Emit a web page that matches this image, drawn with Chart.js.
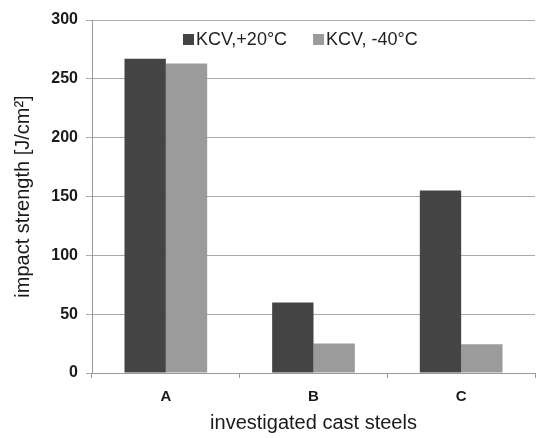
<!DOCTYPE html>
<html>
<head>
<meta charset="utf-8">
<script src="https://cdn.jsdelivr.net/npm/chart.js@4.4.1/dist/chart.umd.min.js"></script>
<style>
  html, body { margin: 0; padding: 0; background: #fff; }
  #wrap { width: 537px; height: 438px; }
</style>
</head>
<body>
<div id="wrap"><canvas id="bar"></canvas></div>
<script>
const steels = ['A', 'B', 'C'];
const kcvPlus20 = [267, 60, 155];
const kcvMinus40 = [263, 25, 24.5];
const yTicks = [0, 50, 100, 150, 200, 250, 300];

const font = 'Liberation Sans, Arial, sans-serif';
const bar = document.getElementById('bar');

// legend sits inside the plot, under the 300 line
const insideLegend = {
  id: 'insideLegend',
  afterDraw(chart) {
    const ctx = chart.ctx;
    const area = chart.chartArea;
    let x = area.left + 91;
    const y = area.top + 20;
    ctx.save();
    ctx.font = '18px ' + font;
    ctx.textBaseline = 'middle';
    chart.data.datasets.forEach((ds) => {
      ctx.fillStyle = ds.backgroundColor;
      ctx.fillRect(x, y - 6, 11, 11);
      ctx.fillStyle = '#222';
      ctx.fillText(ds.label, x + 13, y);
      x += 13 + ctx.measureText(ds.label).width + 26;
    });
    ctx.restore();
  }
};

new Chart(bar, {
  type: 'bar',
  data: {
    labels: steels,
    datasets: [{
      label: 'KCV,+20°C',
      data: kcvPlus20,
      backgroundColor: '#444444',
      borderWidth: 0
    }, {
      label: 'KCV, -40°C',
      data: kcvMinus40,
      backgroundColor: '#9b9b9b',
      borderWidth: 0
    }]
  },
  plugins: [insideLegend],
  options: {
    responsive: true,
    maintainAspectRatio: false,
    animation: false,
    layout: { padding: { top: 20, right: 2, left: 0, bottom: 0 } },
    datasets: {
      bar: { barPercentage: 1, categoryPercentage: 0.56 }
    },
    plugins: {
      tooltip: { enabled: false },
      legend: { display: false }
    },
    scales: {
      x: {
        afterFit: (scale) => { scale.height = 65; },
        grid: {
          offset: true,
          drawOnChartArea: false,
          drawTicks: true,
          tickLength: 5,
          color: '#999'
        },
        border: { color: '#999' },
        ticks: { color: '#1a1a1a', font: { family: font, size: 15, weight: 'bold' }, padding: 10 },
        title: {
          display: true,
          text: 'investigated cast steels',
          color: '#1a1a1a',
          font: { family: font, size: 20 },
          padding: { top: 0, bottom: 3 }
        }
      },
      y: {
        min: 0,
        max: 300,
        afterFit: (scale) => { scale.width = 92; },
        afterBuildTicks: (axis) => { axis.ticks = yTicks.map(v => ({ value: v })); },
        grid: { color: '#aaa', tickLength: 6 },
        border: { color: '#999' },
        ticks: { color: '#1a1a1a', font: { family: font, size: 16, weight: 'bold' }, padding: 8 },
        title: {
          display: true,
          text: 'impact strength [J/cm²]',
          color: '#1a1a1a',
          font: { family: font, size: 20 },
          padding: { top: 11, bottom: 0 }
        }
      }
    }
  }
});
</script>
</body>
</html>
